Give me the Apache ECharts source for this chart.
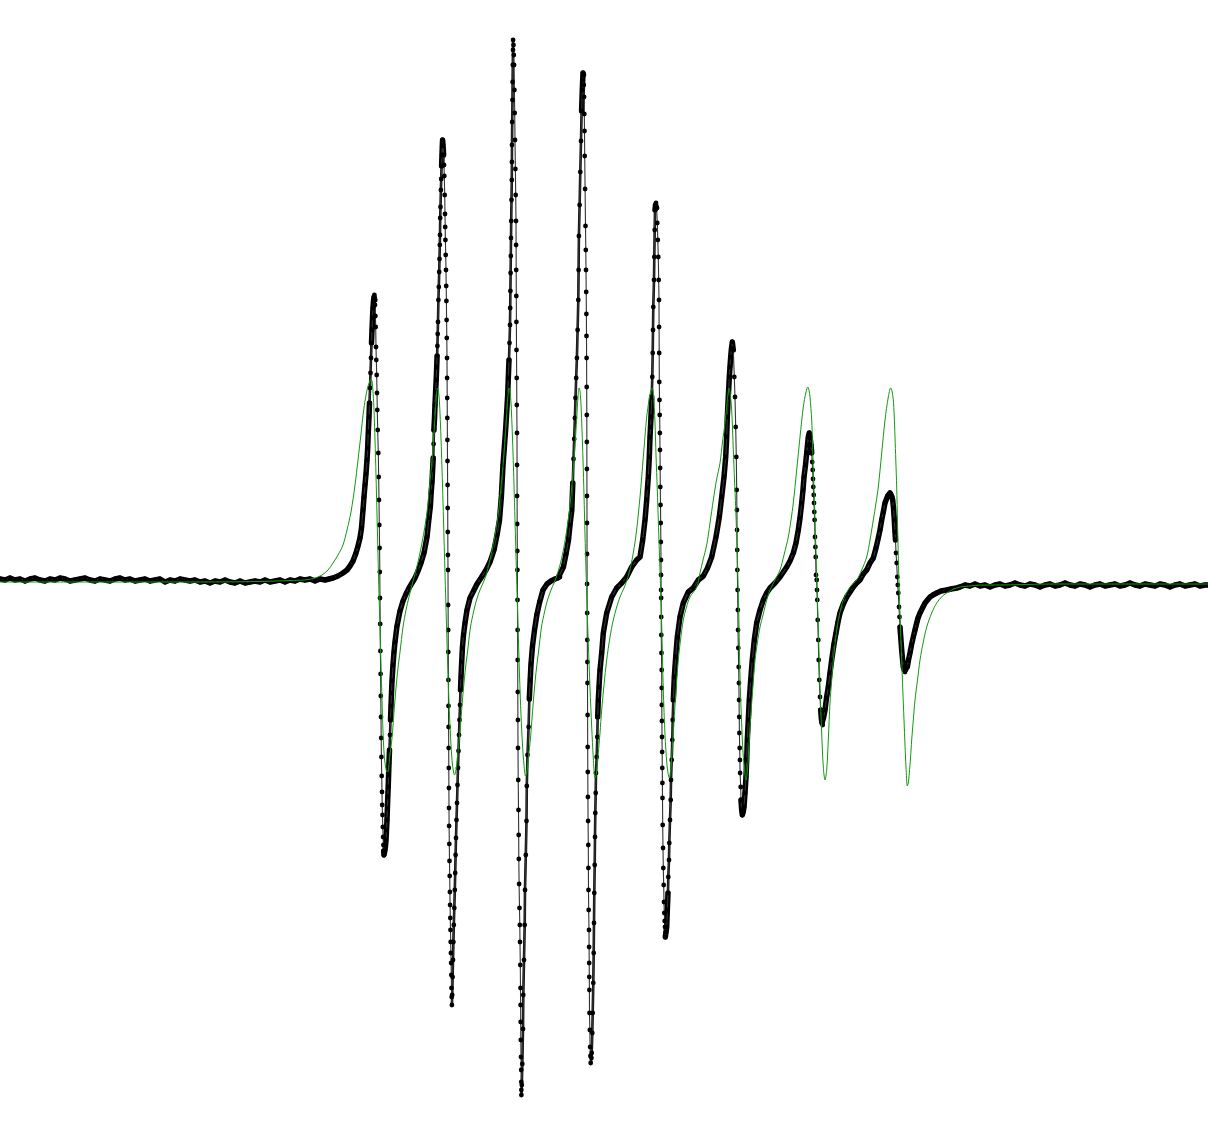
<!DOCTYPE html>
<html>
<head>
<meta charset="utf-8">
<script src="https://cdn.jsdelivr.net/npm/echarts@6/dist/echarts.min.js"></script>
<style>html,body{margin:0;padding:0;background:#fff;}#chart{width:1208px;height:1128px;}</style>
</head>
<body>
<div id="chart"></div>
<script>
// Field (G) vs. EPR derivative intensity (arb. units) -- experimental points
const baseLeft = [[2800,1],[2805,0],[2810,2],[2815,0],[2820,1],[2825,-1],[2830,1],[2835,2],[2840,0],[2845,-1],[2850,1],[2855,0],[2860,2],[2865,1],[2870,-1],[2875,0],[2880,1],[2885,2],[2890,0],[2895,-1],[2900,1],[2905,0],[2910,-1],[2915,1],[2920,2],[2925,0],[2930,1],[2935,-1],[2940,0],[2945,1],[2950,-1],[2955,0],[2960,1],[2965,-2],[2970,0],[2975,-1],[2980,1],[2985,0],[2990,-1],[2995,0],[3000,-2],[3005,-1],[3010,-3],[3015,-1],[3020,-2],[3025,0],[3030,-2],[3035,-3],[3040,-1],[3045,-3],[3050,-2],[3055,-1],[3060,-2],[3065,0],[3070,-2],[3075,-1],[3080,0],[3085,-2],[3090,0],[3095,-1],[3100,1],[3105,0],[3110,1],[3115,-1],[3120,1],[3125,0],[3129,1]];
const line1 = [[3133,2],[3138,4],[3143,7],[3147,10],[3150,14],[3153,19],[3156,27],[3158,34],[3160,42],[3161.5,52],[3163,70],[3164,83],[3165,95],[3166,106],[3167,120],[3167.7,132],[3168.3,148],[3169,163],[3169.5,177],[3170,192],[3170.5,207],[3171,222],[3171.5,237],[3172,250],[3172.5,262],[3173,272],[3173.5,279],[3174,283],[3174.4,285],[3174.8,280],[3175,275],[3175.4,264],[3175.7,253],[3176,233],[3176.3,220],[3176.7,205],[3177,187],[3177.3,170],[3177.7,150],[3178.3,127],[3178.7,103],[3179,80],[3179.3,55],[3179.6,32],[3179.8,8],[3180,-18],[3180.2,-44],[3180.4,-71],[3180.6,-94],[3180.8,-116],[3181,-137],[3181.2,-158],[3181.4,-177],[3181.7,-196],[3182,-212],[3182.2,-225],[3182.5,-235],[3182.8,-247],[3183.1,-257],[3183.4,-265],[3183.7,-271],[3184,-275],[3184.5,-273],[3185,-270],[3185.6,-265],[3186,-260],[3186.5,-250],[3187,-240],[3187.4,-228],[3187.8,-217],[3188.2,-207],[3188.6,-195],[3189,-183],[3189.5,-170],[3190,-155],[3190.5,-140],[3191,-126],[3191.5,-113],[3192,-101],[3193,-85],[3194,-72],[3195,-62],[3197,-46],[3200,-31],[3203,-21],[3206,-14],[3209,-8],[3212,-3],[3215,2],[3218,9],[3221,17],[3224,27],[3227,43],[3229,62]];
const line2 = [[3230.4,74],[3231.2,88],[3232,98],[3232.6,110],[3233.2,122],[3233.6,136],[3233.9,150],[3234.5,162],[3235,175],[3235.6,188],[3236.2,200],[3236.7,213],[3237.1,224],[3237.4,234],[3237.7,246],[3238,258],[3238.4,280],[3238.8,293],[3239.2,308],[3239.5,321],[3239.8,335],[3240,345],[3240.2,362],[3240.5,373],[3240.9,390],[3241.2,401],[3241.6,414],[3242,425],[3242.3,434],[3242.6,440],[3243,435],[3243.6,425],[3244,415],[3244.3,404],[3244.7,385],[3245,366],[3245.2,353],[3245.4,340],[3245.7,325],[3246,310],[3246.2,294],[3246.4,279],[3246.6,260],[3246.8,242],[3247,222],[3247.1,202],[3247.2,182],[3247.3,162],[3247.4,140],[3247.5,119],[3247.6,95],[3247.7,72],[3247.8,48],[3247.9,25],[3248,10],[3248.1,-25],[3248.2,-50],[3248.3,-72],[3248.4,-100],[3248.5,-126],[3248.6,-147],[3248.7,-168],[3248.8,-188],[3248.9,-208],[3249,-228],[3249.1,-246],[3249.3,-264],[3249.5,-281],[3249.7,-296],[3249.9,-312],[3250.1,-325],[3250.3,-338],[3250.5,-350],[3250.7,-362],[3250.9,-373],[3251.1,-383],[3251.3,-395],[3251.5,-408],[3251.7,-417],[3251.9,-425],[3252.2,-415],[3252.6,-397],[3253,-380],[3253.4,-362],[3253.8,-345],[3254.3,-328],[3254.8,-310],[3255.2,-293],[3255.6,-275],[3256,-258],[3256.5,-240],[3257,-223],[3257.5,-205],[3258,-188],[3258.5,-171],[3259,-155],[3259.5,-140],[3260,-125],[3260.5,-110],[3261,-97],[3261.7,-82],[3262.4,-68],[3263.5,-55],[3265,-43],[3267,-30],[3270,-18],[3274,-10],[3277,-4],[3281,2],[3286,10],[3290,18],[3294,30],[3297,45],[3299.5,60]];
const line3 = [[3301.4,84],[3303,115],[3304.5,135],[3305.6,150],[3306.7,168],[3307.7,185],[3308.3,202],[3309,220],[3309.5,237],[3310,255],[3310.2,272],[3310.4,289],[3310.6,307],[3310.8,324],[3311,342],[3311.2,359],[3311.5,380],[3311.8,400],[3311.9,418],[3312,435],[3312.2,458],[3312.5,480],[3312.6,498],[3312.8,515],[3313,530],[3313.1,540],[3313.5,535],[3313.8,525],[3314.1,515],[3314.4,490],[3314.7,467],[3315,440],[3315.4,411],[3315.7,385],[3316,359],[3316.1,335],[3316.2,310],[3316.3,284],[3316.4,258],[3316.5,230],[3316.7,202],[3316.8,175],[3317,147],[3317.05,115],[3317.1,84],[3317.2,56],[3317.3,29],[3317.4,10],[3317.5,-20],[3317.6,-50],[3317.7,-80],[3317.8,-112],[3317.9,-140],[3318,-168],[3318.2,-200],[3318.5,-230],[3318.7,-255],[3318.8,-279],[3319.1,-304],[3319.5,-328],[3319.8,-345],[3320,-362],[3320.3,-385],[3320.5,-408],[3320.6,-425],[3320.7,-442],[3320.8,-460],[3321,-477],[3321.2,-490],[3321.3,-502],[3321.35,-510],[3321.4,-515],[3321.8,-505],[3322.3,-484],[3323,-449],[3323.3,-415],[3324,-380],[3324.7,-345],[3325,-310],[3325.8,-275],[3326.5,-241],[3326.8,-206],[3327.5,-175],[3328.6,-147],[3329.3,-119],[3330.2,-100],[3331,-84],[3332.5,-66],[3334.5,-50],[3337,-34],[3339.7,-22],[3343,-10],[3347,-4],[3351,-1],[3355,1],[3358,2]];
const line4 = [[3360,3],[3363.4,13],[3366,26],[3368.5,40],[3370,55],[3371.8,70],[3372.8,97],[3373.5,121],[3374.2,141],[3374.9,162],[3375.5,182],[3376.2,202],[3376.9,222],[3377.6,250],[3378.3,280],[3378.6,310],[3378.9,344],[3379.6,375],[3380.3,408],[3381,439],[3381.6,469],[3382.3,490],[3382.7,500],[3383,507],[3383.5,505],[3383.8,495],[3384.1,483],[3384.3,466],[3384.5,449],[3384.7,424],[3385.1,391],[3385.5,354],[3385.8,330],[3386,310],[3386.2,288],[3386.4,266],[3386.5,244],[3386.6,222],[3386.7,193],[3386.8,165],[3386.85,138],[3386.9,111],[3386.95,84],[3387,57],[3387.05,26],[3387.1,-4],[3387.2,-33],[3387.3,-60],[3387.4,-82],[3387.5,-103],[3387.6,-135],[3387.7,-167],[3387.8,-192],[3387.9,-217],[3388.1,-241],[3388.3,-265],[3388.4,-288],[3388.5,-310],[3388.7,-330],[3389,-350],[3389.1,-367],[3389.2,-383],[3389.3,-397],[3389.4,-410],[3389.5,-433],[3389.8,-450],[3390.1,-467],[3390.4,-476],[3390.7,-483],[3391.4,-478],[3391.7,-473],[3392.3,-453],[3392.7,-433],[3393.3,-403],[3393.7,-373],[3394,-343],[3394.3,-313],[3394.7,-285],[3395,-257],[3395.3,-233],[3395.7,-213],[3396,-193],[3396.7,-177],[3397.3,-157],[3397.7,-137],[3398.3,-120],[3399,-107],[3400,-90],[3401.7,-73],[3403.3,-53],[3406.7,-33],[3411.7,-17],[3416.7,-8],[3421.7,-3],[3426.7,3],[3431.7,13],[3436.7,20]];
const line5 = [[3440,23],[3442.7,40],[3445,60],[3446.7,80],[3447.5,92],[3448.3,103],[3449.3,123],[3450,143],[3450.5,153],[3451,163],[3451.7,183],[3452.3,203],[3452.7,227],[3453,250],[3453.3,273],[3454,300],[3454.3,323],[3454.7,350],[3455,370],[3455.5,375],[3456,377],[3456.6,372],[3457.3,357],[3457.8,340],[3458.3,323],[3458.7,300],[3459,280],[3459.1,253],[3459.2,227],[3459.3,198],[3459.5,180],[3459.7,165],[3459.85,147],[3460,130],[3460.15,112],[3460.3,93],[3460.5,75],[3460.7,57],[3460.85,38],[3461,20],[3461.05,5],[3461.1,-10],[3461.15,-18],[3461.25,-37],[3461.3,-55],[3461.5,-73],[3461.7,-90],[3461.75,-108],[3461.8,-125],[3461.9,-141],[3462,-157],[3462.15,-172],[3462.3,-188],[3462.4,-203],[3462.5,-218],[3462.7,-245],[3463,-268],[3463.3,-288],[3463.7,-305],[3464,-322],[3464.3,-333],[3464.7,-341],[3465,-347],[3465.3,-357],[3466,-352],[3466.7,-347],[3467.3,-330],[3468,-313],[3468.3,-297],[3469,-280],[3469.3,-263],[3470,-240],[3470.7,-220],[3471,-200],[3471.7,-180],[3472.3,-160],[3472.7,-140],[3473.3,-120],[3474.3,-97],[3475.7,-77],[3477.3,-57],[3480,-37],[3483.3,-23],[3488.3,-12],[3493.3,-8],[3498.3,0]];
const line6 = [[3503.3,4],[3507.5,12],[3511.7,23],[3516,43],[3519.3,63],[3521.7,83],[3524,103],[3525.7,123],[3526.7,143],[3527.3,163],[3528.3,183],[3529.3,203],[3530,213],[3530.7,223],[3531.5,232],[3532.3,238],[3533.3,230],[3534.3,203],[3535,183],[3535.7,153],[3536.3,123],[3536.7,90],[3536.9,70],[3537.05,50],[3537.2,30],[3537.35,10],[3537.6,-10],[3537.85,-30],[3538.05,-50],[3538.3,-68],[3538.7,-87],[3538.9,-103],[3539.05,-120],[3539.25,-137],[3539.4,-153],[3539.7,-168],[3539.9,-180],[3540.1,-193],[3540.7,-207],[3541,-220],[3541.7,-230],[3542.3,-235],[3543.2,-232],[3544,-227],[3545,-213],[3546,-197],[3546.7,-180],[3547.3,-160],[3548.3,-140],[3549.3,-120],[3550.7,-100],[3552.3,-80],[3554.3,-60],[3556.7,-43],[3560,-30],[3563.3,-20],[3566.7,-13],[3570,-8],[3575,-3]];
const line7 = [[3580,3],[3586.7,13],[3590,19],[3593.3,27],[3596,37],[3598.3,50],[3600,62],[3601.7,77],[3603,90],[3604,103],[3605.5,115],[3606.7,127],[3607.5,135],[3608.3,143],[3609.3,147],[3610.2,142],[3611,135],[3611.7,127],[3612.2,118],[3612.7,110],[3613,101],[3613.3,93],[3613.7,85],[3614,77],[3614.3,68],[3614.6,60],[3615,43],[3615.4,33],[3615.7,23],[3616,5],[3616.7,0],[3617,-10],[3617.3,-20],[3617.7,-40],[3618.3,-60],[3618.7,-80],[3619.3,-100],[3620,-117],[3620.7,-130],[3621.3,-138],[3622,-143],[3622.7,-145],[3623.5,-138],[3625,-130],[3626.5,-118],[3628.3,-107],[3630,-93],[3631.7,-80],[3634,-64],[3636,-53],[3638,-42],[3640,-33],[3643.3,-24],[3646.7,-17],[3650,-12],[3653.3,-7],[3656.7,-3],[3660,0],[3663.3,6],[3666.7,10],[3670,17]];
const line8 = [[3673.3,22],[3676,32],[3678.3,42],[3680,50],[3681.7,60],[3683.3,68],[3685,77],[3686.5,81],[3687.7,84],[3689,86],[3690,87],[3691,86],[3692,83],[3692.7,80],[3693.5,72],[3694.3,60],[3695,48],[3695.5,40],[3696,27],[3696.7,17],[3697.3,3],[3697.8,-5],[3698.3,-13],[3699,-27],[3699.5,-37],[3700,-47],[3700.8,-58],[3701.7,-70],[3702.5,-79],[3703.3,-87],[3704.2,-90],[3705,-92],[3706,-90],[3707.3,-87],[3708.5,-80],[3710,-73],[3711.5,-65],[3713.3,-57],[3715,-50],[3716.7,-43],[3718,-38],[3720,-33],[3722.5,-28],[3725,-23],[3727.5,-20],[3730,-17],[3733,-15],[3736.7,-13],[3741,-11],[3746.7,-10],[3751,-9],[3756.7,-8]];
const baseRight = [[3760,-7],[3765,-5],[3770,-6],[3775,-4],[3780,-6],[3785,-5],[3790,-7],[3795,-5],[3800,-4],[3805,-6],[3810,-5],[3815,-3],[3820,-5],[3825,-6],[3830,-4],[3835,-5],[3840,-7],[3845,-5],[3850,-4],[3855,-6],[3860,-5],[3865,-3],[3870,-5],[3875,-6],[3880,-4],[3885,-5],[3890,-7],[3895,-5],[3900,-4],[3905,-6],[3910,-5],[3915,-4],[3920,-6],[3925,-5],[3930,-3],[3935,-5],[3940,-6],[3945,-4],[3950,-5],[3955,-6],[3960,-4],[3965,-5],[3970,-7],[3975,-5],[3980,-4],[3985,-6],[3990,-5],[3995,-4],[4000,-6],[4005,-5],[4008,-5]];

// Simulated fit (green)
const fitLow = [[2800,-2],[2900,-2],[3000,-2],[3060,-1.5],[3090,-0.5],[3105,0],[3115,2],[3122,5],[3128,10],[3133,17],[3138,25],[3143,35],[3147,50],[3151,68],[3155,95],[3158,120],[3161,146],[3163.3,167],[3165.5,182],[3167.5,192],[3169.5,198],[3171,201],[3172.2,198],[3173.2,185],[3174,170],[3175,140],[3176,105],[3177,65],[3178,25],[3179,-15],[3180,-47],[3181,-85],[3182,-120],[3183,-152],[3184,-172],[3185,-183],[3186,-189],[3187,-192],[3188,-191],[3189,-184],[3190,-175],[3192,-158],[3194,-132],[3196,-108],[3198,-88],[3200,-72],[3203,-47],[3206,-30],[3209,-17],[3212,-5],[3215,6],[3218,18],[3221,32],[3224,48],[3227,68],[3229.5,93],[3232,120],[3234,148],[3235.5,170],[3236.5,185],[3237.5,192],[3238.5,189],[3239.5,177],[3240.5,155],[3241.5,127],[3242.5,95],[3243.5,60],[3245,7],[3246.5,-45],[3248,-95],[3249.5,-135],[3251,-165],[3252.5,-185],[3254,-194],[3254.5,-195],[3255.5,-193],[3256.5,-186],[3257.5,-176],[3259.5,-158],[3261.5,-132],[3263.5,-108],[3265.5,-88],[3267.5,-72],[3270.5,-47],[3273.5,-32],[3276.5,-20],[3280,-10],[3283.5,-2],[3286.5,6],[3289.5,18],[3292.5,32],[3295.5,48],[3298.5,68],[3301,93],[3303.5,120],[3305.5,148],[3307,170],[3308,185],[3309,192],[3310,189],[3311,177],[3312,155],[3313,127],[3314,95],[3315,60],[3316.5,7],[3318,-45],[3319.5,-95],[3321,-135],[3322.5,-165],[3324,-185],[3325.5,-196],[3326.5,-194],[3327.5,-187],[3328.5,-177],[3330.5,-158],[3332.5,-132],[3334.5,-108],[3336.5,-88],[3338.5,-72],[3341.5,-47],[3344.5,-32],[3347.5,-20],[3351,-10],[3354,-3]];
const fitMid = [[3357,5],[3360,15],[3363,28],[3366,45],[3369,66],[3371.5,90],[3374,120],[3376,150],[3377.3,172],[3378.2,186],[3379,192],[3380,189],[3381,175],[3382,150],[3383,120],[3384,85],[3385,45],[3386,10],[3387,-25],[3388.3,-63],[3390,-108],[3391.7,-147],[3393.3,-178],[3395,-198],[3396.5,-193],[3398.3,-173],[3400,-153],[3401.7,-130],[3404,-105],[3406.7,-80],[3410,-57],[3413.3,-40],[3416.7,-27],[3420,-17],[3424,-8],[3428,3],[3432,20],[3436,45],[3440,83],[3443.3,123],[3446.7,163],[3449,180],[3450.5,188],[3452.3,192],[3453.3,188],[3455,157],[3456,125],[3457.3,90],[3458.3,60],[3459.3,30],[3460.7,-10],[3461.7,-45],[3463.3,-110],[3465,-155],[3466.8,-183],[3468,-193],[3469.3,-198],[3470.5,-192],[3471.5,-180],[3473.3,-153],[3475.5,-118],[3478.3,-80],[3480.5,-60],[3483.3,-40],[3486.5,-27],[3490,-17],[3496.7,-7],[3500,7],[3503,20],[3506.7,35],[3510,57],[3513.3,80],[3516.5,100],[3520,117],[3522.5,138],[3525,157],[3527,177],[3528,186],[3529,192],[3530,188],[3531.7,170],[3533.3,130],[3534.5,100],[3535.7,73],[3537.3,23],[3538.3,-13],[3539,-45],[3540,-97],[3541.3,-135],[3542.7,-167],[3544.3,-188],[3546,-200],[3547.5,-190],[3548.7,-170],[3550,-147],[3552.5,-112],[3555,-80],[3557.5,-62],[3560,-47],[3563.3,-34],[3566.7,-20],[3570,-10],[3575,0]];
const fitHigh = [[3580,10],[3584,25],[3588.3,43],[3591,60],[3593.3,77],[3596.7,110],[3600,143],[3603.3,173],[3606,188],[3607.7,193],[3609,190],[3610,183],[3611.7,160],[3612.5,137],[3613.3,110],[3614.2,85],[3615,60],[3616.7,3],[3618.3,-47],[3620,-107],[3621.7,-153],[3623.3,-187],[3625,-200],[3626.7,-190],[3628.3,-160],[3630,-123],[3631.7,-100],[3633.3,-80],[3635.8,-58],[3638.3,-40],[3643.3,-20],[3650,-7],[3656.7,0],[3661.7,10],[3666.7,23],[3670,40],[3673.3,60],[3676,77],[3678.3,93],[3681.7,127],[3685,160],[3688.3,183],[3690.7,192],[3692,189],[3693.3,180],[3694.2,165],[3695,143],[3695.8,120],[3696.7,93],[3697.5,58],[3698.3,23],[3699.3,-13],[3700.5,-47],[3701.7,-80],[3702.8,-110],[3704,-140],[3705,-165],[3706,-187],[3707.3,-206],[3708.3,-203],[3709.3,-193],[3710.5,-178],[3711.7,-160],[3713.3,-140],[3715,-120],[3717.5,-100],[3720,-80],[3723.3,-62],[3726.7,-47],[3731.7,-33],[3736.7,-23],[3742.5,-16],[3748.3,-12],[3754,-9],[3760,-7],[3770,-6],[3780,-5],[3800,-5],[3850,-4],[3920,-4],[4008,-4]];

const experimental = [].concat(baseLeft, line1, line2, line3, line4, line5, line6, line7, line8, baseRight);
const fit = [].concat(fitLow, fitMid, fitHigh);

// The instrument samples so densely that, where the trace changes slowly,
// the dots fuse into a solid trace (thick stroke); rising flanks form a
// beaded column (medium stroke); the fast-falling flanks stay thin and dotted.
const nSeg = experimental.length - 1;
const slopes = [];
for (let i = 0; i < nSeg; i++) {
  const p = experimental[i], q = experimental[i + 1];
  const dx = Math.abs(q[0] - p[0]) || 1e-6;
  slopes.push((q[1] - p[1]) / dx);
}
const fused = slopes.map(s => s >= 0 ? s < 30 : s > -18);
function cleanRuns(mask, value, maxLen) {
  let i = 0;
  while (i < nSeg) {
    let j = i;
    while (j < nSeg && mask[j] === mask[i]) j++;
    if (mask[i] === value && j - i <= maxLen && i > 0 && j < nSeg && mask[i - 1] === mask[j]) {
      for (let k = i; k < j; k++) mask[k] = mask[i - 1];
    }
    i = j;
  }
}
cleanRuns(fused, true, 2);   // drop isolated thick dashes on steep flanks
cleanRuns(fused, false, 1);  // close single-segment gaps inside solid trace
const beaded = slopes.map((s, i) => !fused[i] && s > 0);

function brokenLine(mask) {
  const out = [];
  for (let i = 0; i < nSeg; i++) {
    const p = experimental[i], q = experimental[i + 1];
    const prev = i > 0 ? mask[i - 1] : false;
    if (mask[i]) {
      if (!prev) out.push(p);
      out.push(q);
    } else if (prev) {
      out.push([p[0], '-']);
    }
  }
  return out;
}

const chart = echarts.init(document.getElementById('chart'), null, {renderer: 'canvas'});
chart.setOption({
  animation: false,
  backgroundColor: '#ffffff',
  grid: {left: 0, right: 0, top: 0, bottom: 0},
  xAxis: {type: 'value', min: 2800, max: 4008, show: false},
  yAxis: {type: 'value', min: -548, max: 580, show: false},
  series: [
    {
      name: 'dense', type: 'line', data: brokenLine(fused), symbol: 'none', connectNulls: false,
      lineStyle: {color: '#000000', width: 5.5, join: 'round', cap: 'round'}, z: 1, silent: true
    },
    {
      name: 'beaded', type: 'line', data: brokenLine(beaded), symbol: 'none', connectNulls: false,
      lineStyle: {color: '#111111', width: 2.6, join: 'round', cap: 'round'}, z: 1, silent: true
    },
    {
      name: 'experiment', type: 'line', data: experimental, symbol: 'circle', symbolSize: 4.8,
      showAllSymbol: true, itemStyle: {color: '#000000'},
      lineStyle: {color: '#333333', width: 1.1}, z: 2, silent: true
    },
    {
      name: 'fit', type: 'line', data: fit, symbol: 'none', smooth: 0.3,
      lineStyle: {color: '#119a11', width: 1}, z: 3, silent: true
    }
  ]
});
</script>
</body>
</html>
